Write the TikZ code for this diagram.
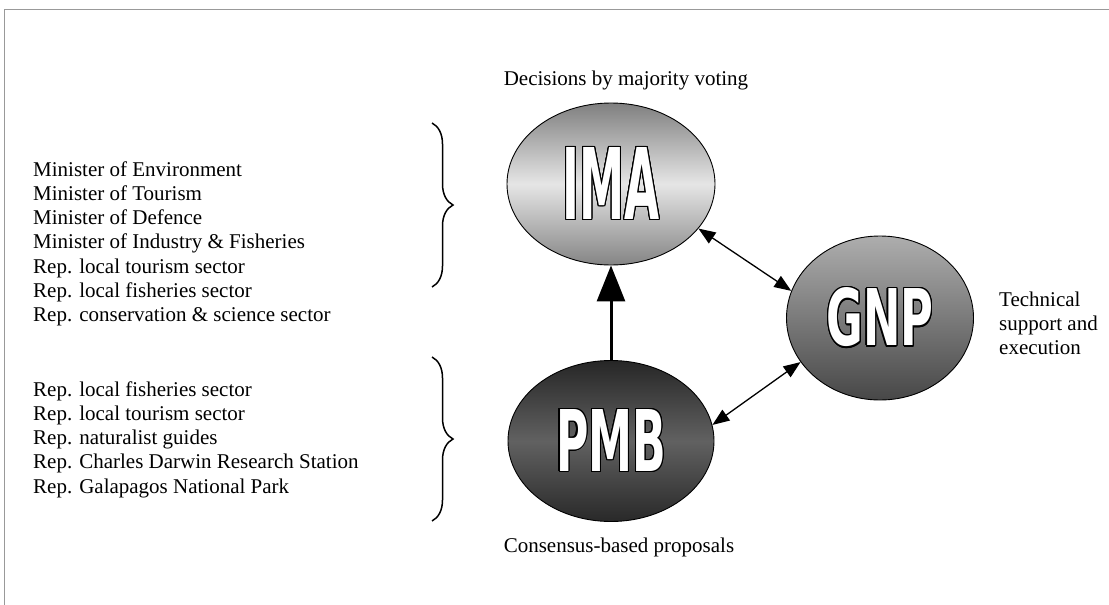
\documentclass[tikz,border=0pt]{standalone}
\usepackage{fontspec}
\setmainfont{Liberation Serif}
\newfontfamily\logofont{DejaVu Sans Condensed Bold}
\usepackage{graphicx}
\usepackage[copies]{contour}
\contourlength{1.3pt}
\usetikzlibrary{shapes.geometric,arrows.meta,decorations.pathreplacing}
\begin{document}
\begin{tikzpicture}[x=1pt,y=-1pt,
  txt/.style={inner sep=0pt, font=\fontsize{21}{24.3}\selectfont},
  body/.style={ellipse, draw=black, line width=0.9pt, inner sep=0pt},
  logo/.style={text=white, font=\logofont\fontsize{40}{40}\selectfont},
  dbl/.style={{Triangle[length=17pt,width=13pt]}-{Triangle[length=17pt,width=13pt]}, line width=1.3pt},
  uparrow/.style={-{Triangle[length=36pt,width=28pt]}, line width=3pt},
  brc/.style={decorate, decoration={brace, amplitude=21pt}, line width=1.5pt},
  frame/.style={draw=black!40, line width=1.5pt}]

\useasboundingbox (0,0) rectangle (1109,605);
\draw[frame] (4.5,605) -- (4.5,9.5) -- (1109,9.5);

\node[body, logo, minimum width=208pt, minimum height=162pt,
      top color=black!50, bottom color=black!48, middle color=black!10]
  (IMA) at (611,184) {\contour{black}{\resizebox{97pt}{72pt}{IMA}}};
\node[body, logo, minimum width=187pt, minimum height=164pt,
      top color=black!32, bottom color=black!72]
  (GNP) at (880,318) {\contour{black}{\resizebox{107pt}{58pt}{GNP}}};
\node[body, logo, minimum width=206pt, minimum height=161pt,
      top color=black!85, bottom color=black!84, middle color=black!62]
  (PMB) at (611,441) {\contour{black}{\resizebox{110pt}{62pt}{PMB}}};

\draw[uparrow] (PMB.north) -- (IMA.south);
\draw[dbl] (IMA.-27) -- (GNP.163);
\draw[dbl] (PMB.9) -- (GNP.209);

\node[txt, anchor=base] (dec) at (626,85) {Decisions by majority voting};
\node[txt, anchor=base] (cons) at (619,552) {Consensus-based proposals};
\node[txt, anchor=base west] (tech) at (999,306)
  {\begin{tabular}[t]{@{}l@{}}Technical\\support and\\execution\end{tabular}};

\node[txt, anchor=base west] (imalist) at (33,176)
  {\begin{tabular}[t]{@{}l@{}}Minister of Environment\\Minister of Tourism\\Minister of Defence\\Minister of Industry \& Fisheries\\Rep. local tourism sector\\Rep. local fisheries sector\\Rep. conservation \& science sector\end{tabular}};
\node[txt, anchor=base west] (pmblist) at (33,396)
  {\begin{tabular}[t]{@{}l@{}}Rep. local fisheries sector\\Rep. local tourism sector\\Rep. naturalist guides\\Rep. Charles Darwin Research Station\\Rep. Galapagos National Park\end{tabular}};

\draw[brc] (432,123) -- (432,287);
\draw[brc] (432,357) -- (432,521);
\end{tikzpicture}
\end{document}
